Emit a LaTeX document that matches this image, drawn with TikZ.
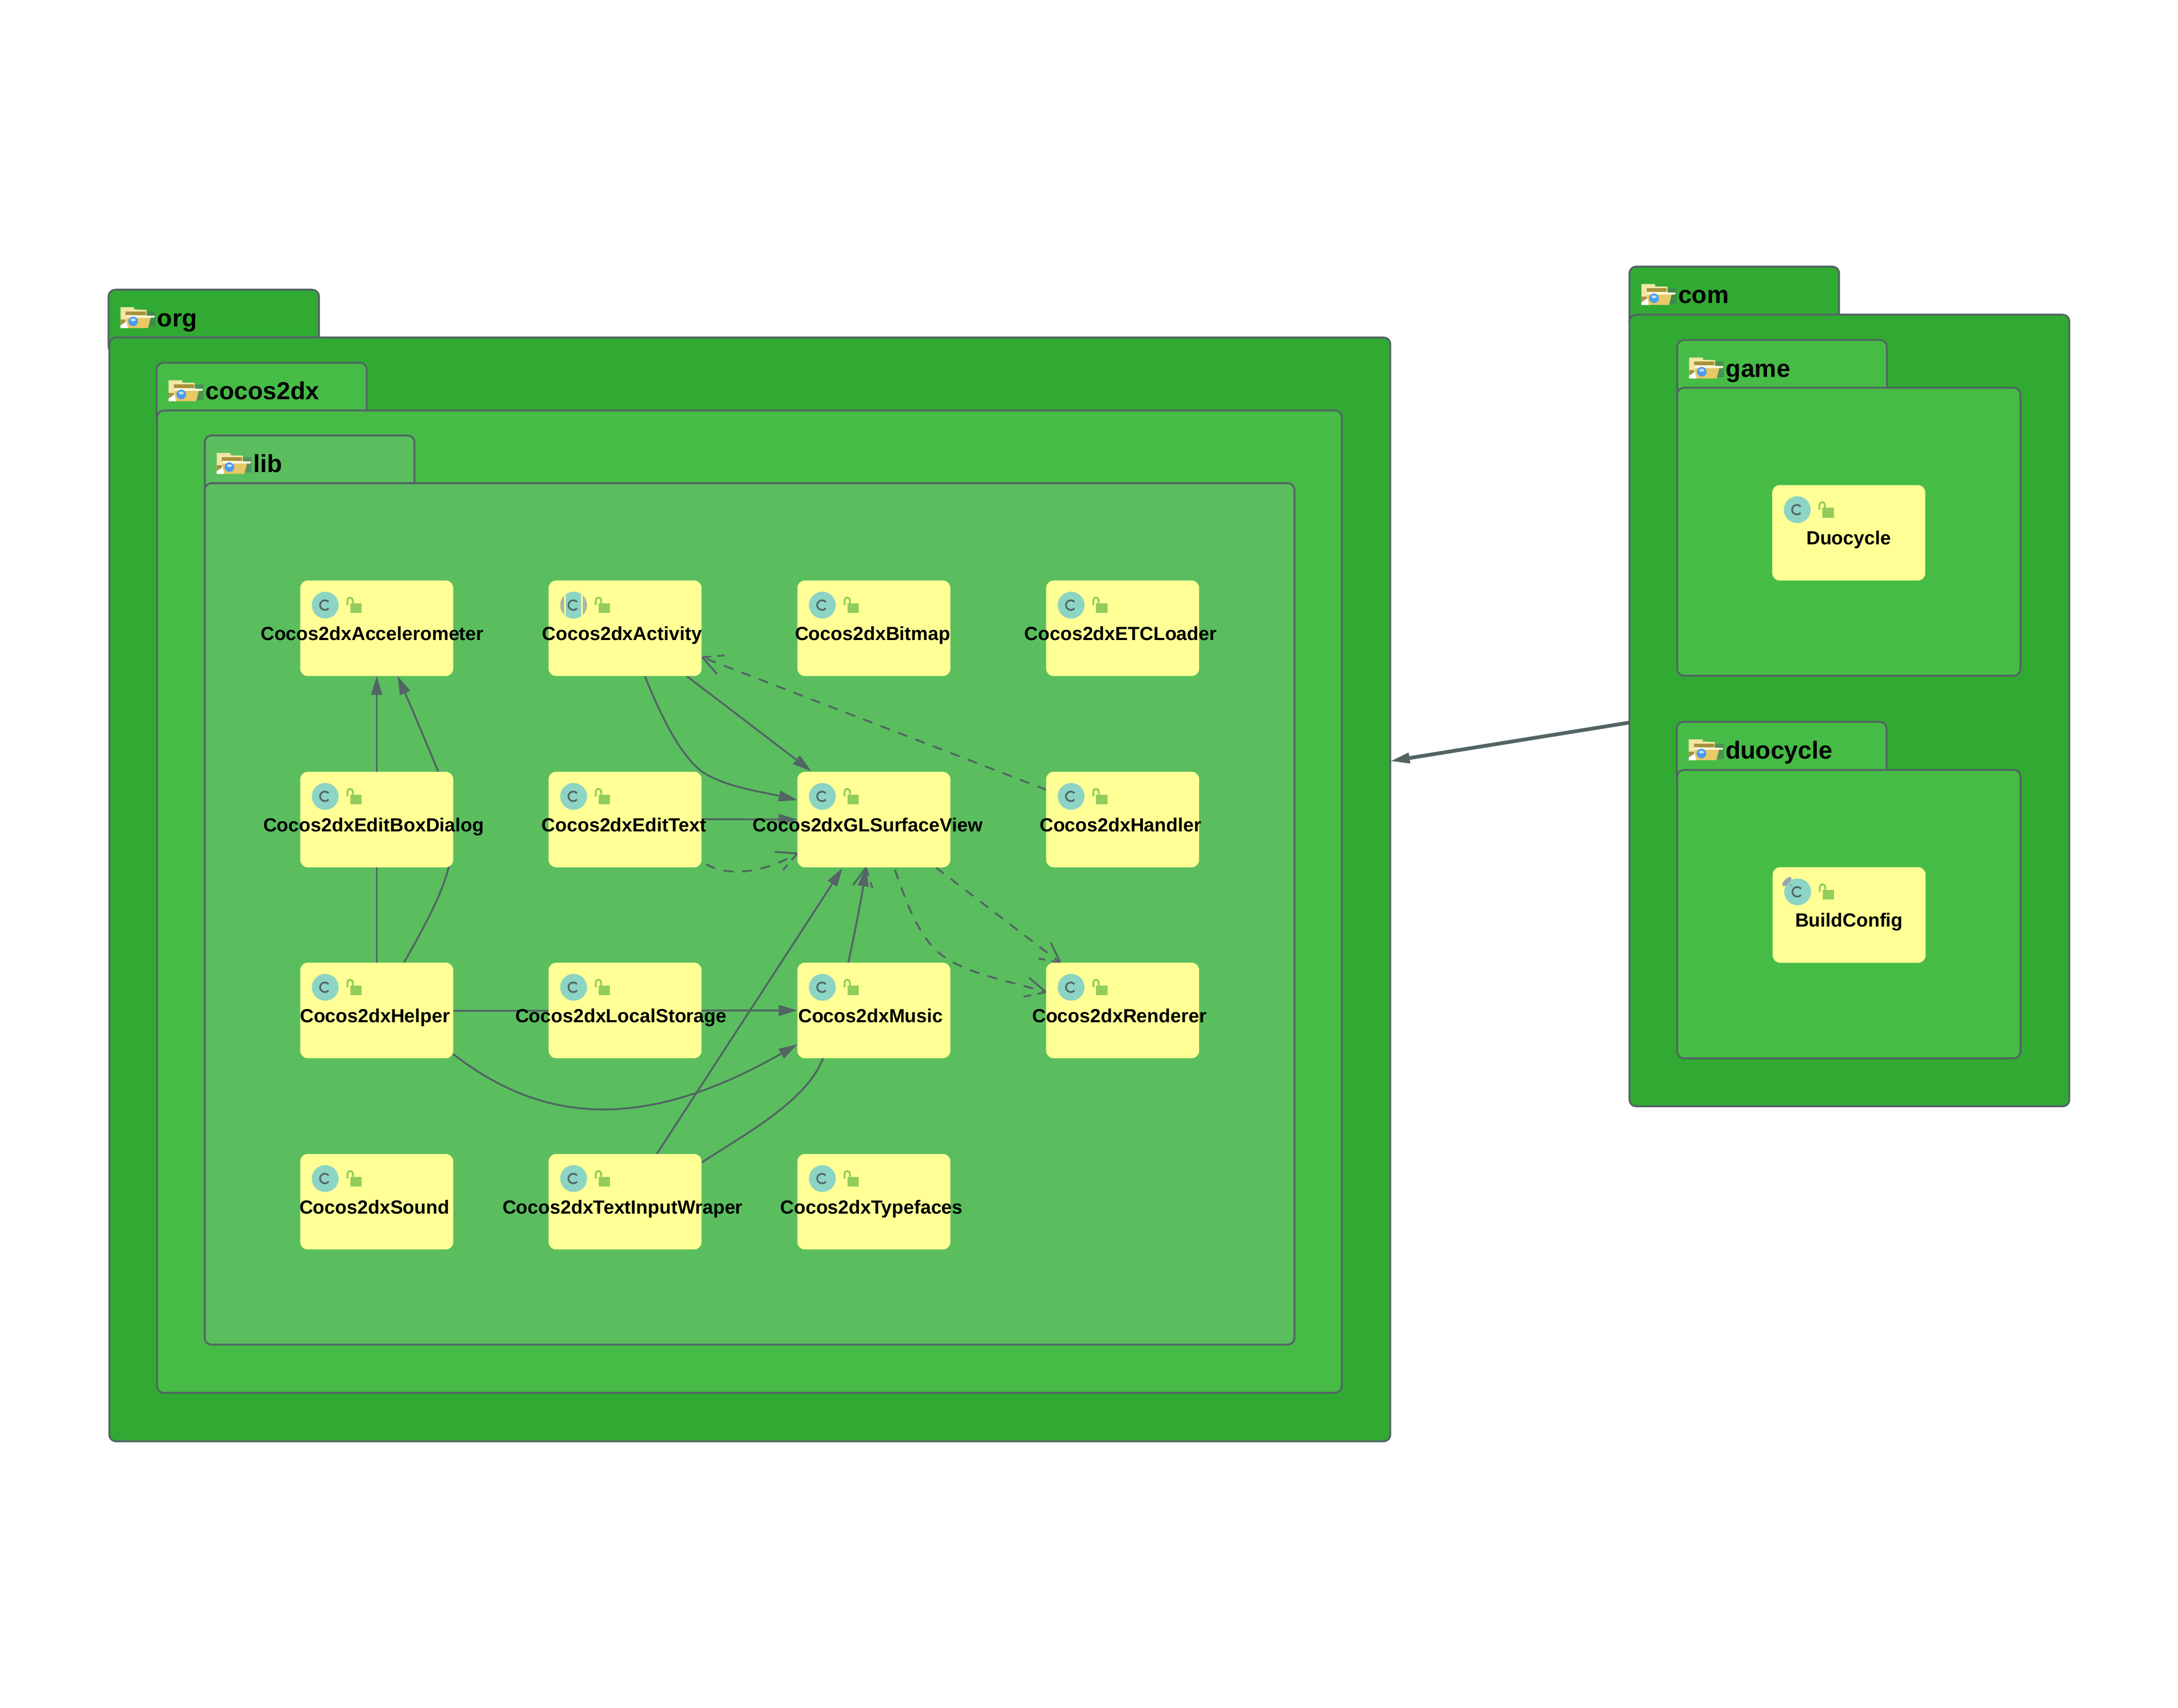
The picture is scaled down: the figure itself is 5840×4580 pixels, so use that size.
\documentclass[tikz,border=0pt]{standalone}
\usepackage{fontspec}
\setmainfont{Liberation Sans}
\usetikzlibrary{arrows.meta,calc}
\definecolor{pkgA}{HTML}{31AA33}
\definecolor{pkgB}{HTML}{46BC46}
\definecolor{pkgC}{HTML}{5ABE5E}
\definecolor{edgeC}{HTML}{526464}
\definecolor{clsY}{HTML}{FFFF96}
\definecolor{tealC}{HTML}{8CD4C4}
\definecolor{lockC}{HTML}{92CD5C}
\definecolor{pinC}{HTML}{9AA5AD}
\definecolor{greyC}{HTML}{ADB5A8}
\definecolor{foldBack}{HTML}{F3E6A6}
\definecolor{foldOlive}{HTML}{A8923C}
\definecolor{foldFront}{HTML}{E9C866}
\definecolor{foldLip}{HTML}{FFFBE0}
\definecolor{gemC}{HTML}{4A9CF0}
\definecolor{gemH}{HTML}{BFE0FF}
\pgfdeclarelayer{pkg}\pgfdeclarelayer{boxes}\pgfdeclarelayer{toptext}
\pgfsetlayers{pkg,main,boxes,toptext}
\tikzset{
  pkgshape/.style={draw=edgeC,line width=0.05cm,rectangle,rounded corners=0.18cm,inner sep=0pt,outer sep=0pt,anchor=north west},
  pkgname/.style={anchor=base west,inner sep=0pt,font=\fontsize{18.8}{22}\selectfont\bfseries},
  clsbox/.style={rectangle,fill=clsY,rounded corners=0.2cm,minimum width=4.1cm,minimum height=2.56cm,inner sep=0pt,outer sep=0pt,anchor=north west},
  clsname/.style={anchor=base,inner sep=0pt,font=\fontsize{14.5}{17}\selectfont\bfseries},
  dep/.style={draw=edgeC,line width=0.05cm,-{Rectangle[length=0.1pt,width=0.1pt,sep=0.08cm,line width=0pt]Triangle[length=0.5cm,width=0.3cm,line width=0pt]}},
  pkgdep/.style={draw=edgeC,line width=0.1cm,-{Rectangle[length=0.1pt,width=0.1pt,sep=0.06cm,line width=0pt]Triangle[length=0.5cm,width=0.3cm,line width=0pt]}},
  dashdep/.style={draw=edgeC,line width=0.05cm,line cap=round,dash pattern=on 0.24cm off 0.26cm},
  barbsolid/.style={draw=edgeC,line width=0.05cm,line cap=round},
  barbdash/.style={draw=edgeC,line width=0.05cm,line cap=round,dash pattern=on 0.22cm off 0.2cm},
  foldericon/.pic={
    \fill[edgeC,opacity=.45] (100,58) rectangle (126,100);
    \fill[foldBack] (32,47) -- (69,47) -- (69,53) -- (102,54) -- (102,72) -- (48,72) -- (48,103) -- (32,103) -- cycle;
    \fill[foldOlive] (46,58) rectangle (100,68);
    \fill[foldOlive] (32,80) rectangle (46,95);
    \fill[foldFront] (48,72) -- (114,72) -- (106,103) -- (32,103) -- (48,90) -- cycle;
    \fill[foldLip] (48,68) -- (125,70) -- (122,75) -- (48,75) -- cycle;
    \fill[white] (32,103) -- (32,96) -- (48,85) -- (52,103) -- cycle;
    \fill[gemC] (66,85) circle [radius=13];
    \fill[gemH] (66,81) ellipse [x radius=7,y radius=4];
  },
  lockicon/.pic={
    \fill[lockC] (134,61) rectangle (165,87);
    \draw[lockC,line width=0.05cm] (126.5,66) -- (126.5,53) arc [start angle=180,end angle=360,radius=7.25] -- (141,61);
  },
  cglyph/.pic={
    \draw[edgeC,line width=0.045cm] (76,57.6) arc [start angle=-40,end angle=-320,radius=13];
  },
  classicon/.pic={
    \fill[tealC] (67,66) circle [radius=36];
    \pic {cglyph};
    \pic {lockicon};
  },
  abstracticon/.pic={
    \fill[greyC] (67,66) circle [radius=36];
    \begin{scope}
      \clip (67,66) circle [radius=36];
      \fill[clsY] (41.7,20) rectangle (92.3,110);
      \fill[tealC] (46.3,20) rectangle (87.7,110);
    \end{scope}
    \pic {cglyph};
    \pic {lockicon};
  },
  pinnedicon/.pic={
    \fill[tealC] (67,66) circle [radius=36];
    \fill[pinC] (38.3,38.3) ellipse [x radius=16,y radius=7,rotate=45];
    \fill[pinC] (43,47) -- (54,54) -- (49,45) -- cycle;
    \pic {cglyph};
    \pic {lockicon};
  },
}
\newcommand\pkgbox[8]{%
  \begin{pgfonlayer}{pkg}
    \node[pkgshape,fill=#8,minimum width=#4cm,minimum height=1.7cm] (#1tab) at (#3) {};
    \node[pkgshape,fill=#8,minimum width=#6cm,minimum height=#7cm] (#1) at (#5) {};
    \pic at (#3) {foldericon};
    \node[pkgname] (#1name) at ($(#1tab.north west)+(130,99)$) {#2};
  \end{pgfonlayer}}
\newcommand\cls[6][classicon]{%
  \begin{pgfonlayer}{boxes}
    \node[clsbox] (#2) at (#3,#4) {};
    \pic at (#2.north west) {#1};
  \end{pgfonlayer}
  \begin{pgfonlayer}{toptext}
    \node[clsname] (#2name) at (#5,#4+160) {#6};
  \end{pgfonlayer}}
\begin{document}
\begin{tikzpicture}[x=0.01cm,y=-0.01cm]
\useasboundingbox (0,0) rectangle (5840,4580);
\begin{pgfonlayer}{pkg}
\fill[white] (0,0) rectangle (5840,4580);
\end{pgfonlayer}
% packages (outermost first)
\pkgbox{org}{org}{291,777}{5.64}{293,905}{34.33}{29.59}{pkgA}
\pkgbox{coco}{cocos2dx}{420,973}{5.63}{421,1101}{31.75}{26.33}{pkgB}
\pkgbox{lib}{lib}{549,1168}{5.62}{549,1296}{29.2}{23.09}{pkgC}
\pkgbox{com}{com}{4369,715}{5.62}{4369,844}{11.79}{21.22}{pkgA}
\pkgbox{game}{game}{4497,912}{5.62}{4497,1040}{9.2}{7.72}{pkgB}
\pkgbox{duoc}{duocycle}{4496,1936}{5.62}{4497,2065}{9.2}{7.73}{pkgB}
% classes
\cls{acc}{805}{1557}{998}{Cocos2dxAccelerometer}
\cls[abstracticon]{act}{1471}{1557}{1668}{Cocos2dxActivity}
\cls{bmp}{2138}{1557}{2340}{Cocos2dxBitmap}
\cls{etc}{2805}{1557}{3005}{Cocos2dxETCLoader}
\cls{ebd}{805}{2070}{1002}{Cocos2dxEditBoxDialog}
\cls{edt}{1471}{2070}{1673}{Cocos2dxEditText}
\cls{gl}{2138}{2070}{2327}{Cocos2dxGLSurfaceView}
\cls{hnd}{2805}{2070}{3004.5}{Cocos2dxHandler}
\cls{hlp}{805}{2582}{1005.6}{Cocos2dxHelper}
\cls{lst}{1471}{2582}{1665}{Cocos2dxLocalStorage}
\cls{mus}{2138}{2582}{2334.5}{Cocos2dxMusic}
\cls{rnd}{2805}{2582}{3001.5}{Cocos2dxRenderer}
\cls{snd}{805}{3095}{1004}{Cocos2dxSound}
\cls{tiw}{1471}{3095}{1669.5}{Cocos2dxTextInputWraper}
\cls{tyf}{2138}{3095}{2337}{Cocos2dxTypefaces}
\cls{duo}{4752}{1301}{4957}{Duocycle}
\cls[pinnedicon]{bld}{4753}{2326}{4958}{BuildConfig}
% solid dependencies
\draw[dep] (hlp.north) -- (acc.south);
\draw[dep] ($(hlp.north west)+(278,0)$) .. controls (1135,2490) and (1185,2400) .. (1203,2326)
   .. controls (1225,2230) and (1205,2140) .. (1175,2069)
   .. controls (1140,1985) and (1100,1890) .. ($(acc.south west)+(261,0)$);
\draw[dep] ($(act.south west)+(370,0)$) -- ($(gl.north west)+(37,-2)$);
\draw[dep] ($(act.south west)+(258,0)$) .. controls (1770,1915) and (1820,2020) .. (1880,2068)
   .. controls (1940,2110) and (2040,2123) .. ($(gl.north west)+(0,76)$);
\draw[dep] ($(edt.north east)+(0,127)$) -- ($(gl.north west)+(0,128)$);
\draw[dep] (hlp.east) ++(0,1) -- ($(mus.west)+(0,0)$);
\draw[dep] ($(hlp.south east)+(0,-11)$) .. controls (1450,3010) and (1720,3040) .. ($(mus.south west)+(0,-37)$);
\draw[dep] ($(tiw.north west)+(290,0)$) -- ($(gl.south west)+(121,2)$);
\draw[dep] ($(tiw.north east)+(0,23)$) .. controls (2000,3040) and (2170,2950) .. (2210,2830)
   .. controls (2250,2720) and (2305,2440) .. ($(gl.south west)+(184,1)$);
% dashed dependencies with open heads
\coordinate (tipA) at ($(act.north east)+(2,206)$);
\draw[dashdep] ($(hnd.north west)+(0,48)$) -- (tipA);
\draw[barbdash] (tipA) -- (1941,1758);
\draw[barbsolid] (tipA) -- (1922,1807);
\coordinate (tipB) at ($(gl.north west)+(0,219)$);
\draw[dashdep] ($(edt.south east)+(13,-8)$) .. controls (1950,2350) and (2040,2345) .. (tipB);
\draw[barbsolid] (tipB) -- (2079,2285);
\draw[barbdash] (tipB) -- (2100,2333);
\coordinate (tipC) at ($(rnd.north west)+(38,0)$);
\draw[dashdep] ($(gl.south east)+(-38,1)$) -- (tipC);
\draw[barbsolid] (tipC) -- (2818,2529);
\draw[barbdash] (tipC) -- (2786,2571);
\coordinate (tipD) at ($(rnd.north west)+(0,79)$);
\draw[dashdep] ($(gl.south west)+(262,8)$) .. controls (2430,2420) and (2465,2520) .. (2530,2565)
   .. controls (2590,2610) and (2700,2630) .. (tipD);
\draw[barbsolid] (tipD) -- (2760,2623);
\draw[barbdash] (tipD) -- (2746,2673);
\coordinate (tipE) at ($(gl.south west)+(184,1)$);
\draw[barbsolid] (tipE) -- (2288,2373);
\draw[barbdash] (tipE) -- (2339,2381);
% package dependency
\draw[pkgdep] ($(com.north west)+(0,1094)$) -- ($(org.north east)+(2,1136)$);
\end{tikzpicture}
\end{document}
